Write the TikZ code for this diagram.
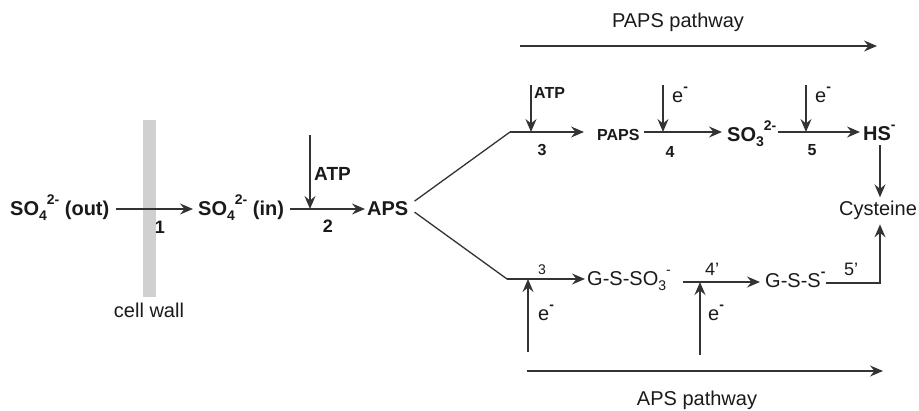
\documentclass[tikz,border=0pt]{standalone}
\usepackage{fontspec}
\setmainfont{Liberation Sans}
\usetikzlibrary{arrows.meta}
\definecolor{ink}{HTML}{1A1A1A}
\definecolor{lc}{HTML}{333333}
\definecolor{wallgray}{HTML}{D0D0D0}
\newcommand\mysub[1]{\raisebox{-0.28em}{\fontsize{14}{14}\selectfont #1}}
\newcommand\mysup[1]{\raisebox{0.52em}{\fontsize{14}{14}\selectfont #1}}
\begin{document}
\begin{tikzpicture}[x=1pt,y=-1pt,
  every node/.style={inner sep=0pt, text=ink},
  big/.style={font=\fontsize{20}{24}\selectfont\bfseries, anchor=base west},
  reg/.style={font=\fontsize{20}{24}\selectfont, anchor=base west},
  sb/.style={font=\fontsize{16}{19}\selectfont\bfseries, anchor=base west},
  numA/.style={font=\fontsize{18}{20}\selectfont\bfseries},
  numB/.style={font=\fontsize{16}{18}\selectfont\bfseries},
  numC/.style={font=\fontsize{18}{20}\selectfont},
  numD/.style={font=\fontsize{14}{16}\selectfont},
  arr/.style={draw=lc, line width=1.3pt, -{Stealth[length=13pt,width=11pt,inset=4.5pt]}},
  plain/.style={draw=lc, line width=1.3pt}
]
\useasboundingbox (0,0) rectangle (919,410);
% cell wall
\fill[wallgray] (143,120) rectangle (156,297);
\node[reg, anchor=base] (cw) at (149,317) {cell wall};
% row coordinates
\coordinate (r1) at (0,209);
\coordinate (c3) at (510,132);
\coordinate (c3b) at (507,279);
\coordinate (r4) at (0,282);
\coordinate (r5) at (0,283);
\coordinate (vx) at (880,0);
% main row
\node[big] (so4out) at (10,215) {SO\mysub{4}\mysup{2-} (out)};
\node[big] (so4in) at (198,215) {SO\mysub{4}\mysup{2-} (in)};
\node[big] (aps) at (367,215) {APS};
\node[numA] (n1) at (160,227) {1};
\node[numA] (n2) at (328,226) {2};
\node[font=\fontsize{19}{22}\selectfont\bfseries, anchor=base west] (atp1) at (314,180) {ATP};
\coordinate (t2) at (310,135);
\draw[arr, shorten <=6pt, shorten >=5pt] (so4out.east |- r1) -- (so4in.west |- r1);
\draw[arr, shorten <=6pt, shorten >=2pt] (so4in.east |- r1) -- (aps.west |- r1);
\draw[arr] (t2) -- (t2 |- r1);
% PAPS pathway
\node[reg, anchor=base] (papsp) at (678,27) {PAPS pathway};
\coordinate (pp1) at (520,46);
\coordinate (pp2) at (877,46);
\draw[arr] (pp1) -- (pp2);
% upper row
\node[sb] (paps) at (597,140) {PAPS};
\node[big] (so3) at (727,141) {SO\mysub{3}\mysup{2-}};
\node[big] (hs) at (863,140) {HS\mysup{\textbf{-}}};
\node[reg, anchor=base] (cys) at (878,215) {Cysteine};
\node[sb] (atp2) at (534,98) {ATP};
\node[reg] (e4) at (672,102) {e\mysup{\textbf{-}}};
\node[reg] (e5) at (815,102) {e\mysup{\textbf{-}}};
\node[numB] (n3) at (542,150) {3};
\node[numB] (n4) at (670,152) {4};
\node[numB] (n5) at (812,150) {5};
\coordinate (t3) at (531,85);
\coordinate (t4) at (663,85);
\coordinate (t5) at (806,85);
\draw[plain] ([xshift=6pt,yshift=7pt]aps.east) -- (c3);
\draw[arr, shorten >=13pt] (c3) -- (paps.west |- c3);
\draw[arr, shorten <=4pt, shorten >=5pt] (paps.east |- c3) -- (so3.west |- c3);
\draw[arr, shorten <=1pt, shorten >=3pt] (so3.east |- c3) -- (hs.west |- c3);
\draw[arr] (t3) -- (t3 |- c3);
\draw[arr] (t4) -- (t4 |- c3);
\draw[arr] (t5) -- (t5 |- c3);
\draw[arr, shorten <=5pt, shorten >=3pt] (vx |- hs.south) -- (vx |- cys.north);
% lower row
\node[reg] (gsso3) at (587,285) {G-S-SO\mysub{3}\mysup{-}};
\node[reg] (gss) at (765,287) {G-S-S\mysup{\textbf{-}}};
\node[reg] (e3b) at (538,320) {e\mysup{\textbf{-}}};
\node[reg] (e4b) at (708,320) {e\mysup{\textbf{-}}};
\node[numD] (n3b) at (542,270) {3};
\node[numC] (n4b) at (712,269) {4'};
\node[numC] (n5b) at (851,269) {5'};
\coordinate (b3) at (528,352);
\coordinate (b4) at (700,355);
\draw[plain] ([xshift=6pt,yshift=-4pt]aps.east) -- (c3b);
\draw[arr, shorten >=2pt] (c3b) -- (gsso3.west |- c3b);
\draw[arr, shorten <=12pt, shorten >=5pt] (gsso3.east |- r4) -- (gss.west |- r4);
\draw[arr, shorten >=5pt] (gss.east |- r5) -| (vx |- cys.south);
\draw[arr] (b3) -- (b3 |- c3b);
\draw[arr] (b4) -- (b4 |- r4);
% APS pathway
\node[reg, anchor=base] (apsp) at (697,405) {APS pathway};
\coordinate (ap1) at (527,371);
\coordinate (ap2) at (883,371);
\draw[arr] (ap1) -- (ap2);
\end{tikzpicture}
\end{document}
